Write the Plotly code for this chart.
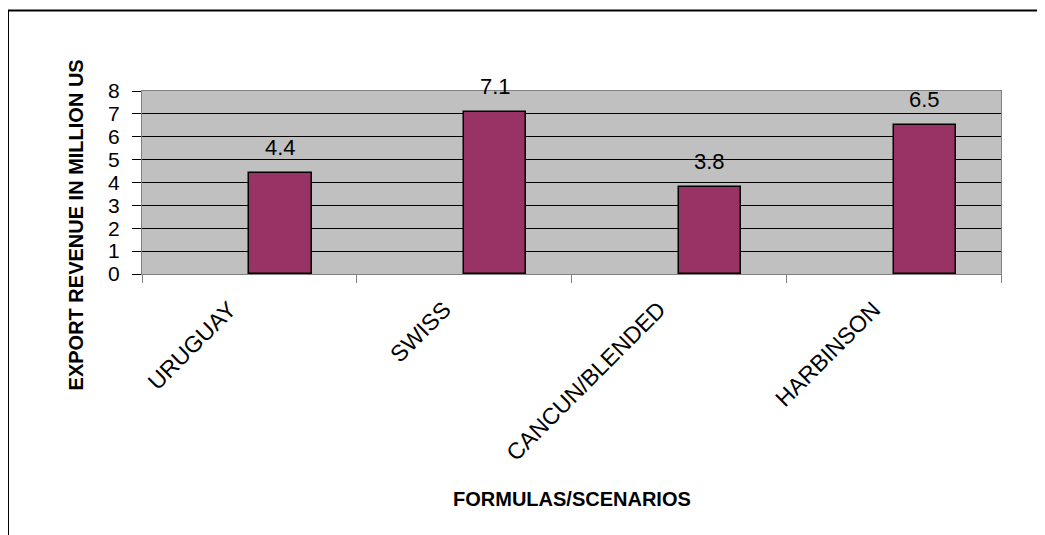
import plotly.graph_objects as go

scenarios = ["URUGUAY", "SWISS", "CANCUN/BLENDED", "HARBINSON"]
revenue = [4.4, 7.1, 3.8, 6.5]
y_ticks = [0, 1, 2, 3, 4, 5, 6, 7, 8]

FONT = "Liberation Sans, Arial, sans-serif"

fig = go.Figure()
fig.add_trace(go.Bar(
    x=scenarios, y=revenue,
    width=0.29, offset=0,
    marker=dict(color="#993366", line=dict(color="black", width=1.5)),
    hoverinfo="x+y",
))

# value labels above each bar
for name, val in zip(scenarios, revenue):
    fig.add_annotation(x=name, y=val, text=f"{val:.1f}", showarrow=False,
                       xshift=31, yshift=11, yanchor="bottom",
                       font=dict(family=FONT, size=22, color="black"))

# axis titles
fig.add_annotation(text="<b>EXPORT REVENUE IN MILLION US</b>", textangle=-90,
                   xref="paper", yref="paper", x=-0.077, y=0.27,
                   xanchor="center", yanchor="middle", showarrow=False,
                   font=dict(family=FONT, size=20, color="black"))
fig.add_annotation(text="<b>FORMULAS/SCENARIOS</b>",
                   xref="paper", yref="paper", x=0.5, y=-1.23,
                   xanchor="center", yanchor="middle", showarrow=False,
                   font=dict(family=FONT, size=20, color="black"))

# outer chart frame
fig.add_shape(type="rect", xref="paper", yref="paper",
              x0=-0.156, x1=1.06, y0=-1.5, y1=1.44,
              line=dict(color="black", width=2), fillcolor="rgba(0,0,0,0)",
              layer="below")

# page body has an 8px margin, so the figure is shrunk to fit the window
fig.update_layout(
    width=1037, height=527,
    margin=dict(l=134, r=44, t=83, b=261),
    paper_bgcolor="white", plot_bgcolor="#C0C0C0",
    font=dict(family=FONT, color="black"),
    showlegend=False, bargap=0,
)
fig.update_xaxes(
    type="category", tickangle=-45, tickson="boundaries",
    ticks="outside", ticklen=8, tickcolor="#808080",
    tickfont=dict(family=FONT, size=23),
    showgrid=False, showline=True, linecolor="#808080", mirror=True,
    ticklabelshift=-20, ticklabelstandoff=12,
)
fig.update_yaxes(
    range=[0, 8], tickvals=y_ticks,
    ticks="outside", ticklen=9, tickcolor="black",
    tickfont=dict(family=FONT, size=21),
    showgrid=True, gridcolor="black", gridwidth=1,
    zeroline=True, zerolinecolor="black", zerolinewidth=1,
    showline=True, linecolor="#808080", mirror=True,
    ticklabelstandoff=8,
)

fig.write_html("out.html")
